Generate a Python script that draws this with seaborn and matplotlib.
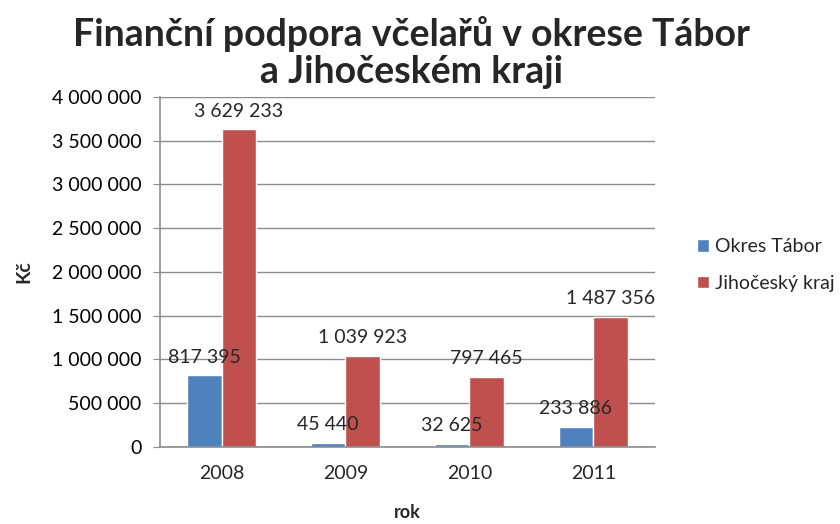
import numpy as np
import pandas as pd
import matplotlib.pyplot as plt
import matplotlib.ticker as mticker
import seaborn as sns

years = ['2008', '2009', '2010', '2011']
okres_tabor = [817395, 45440, 32625, 233886]
jihocesky_kraj = [3629233, 1039923, 797465, 1487356]
series_names = ['Okres Tábor', 'Jihočeský kraj']
colors = ['#4F81BD', '#C0504D']


def space_thousands(v):
    return f'{int(round(v)):,}'.replace(',', '\u00a0')


df = pd.DataFrame({
    'rok': years * 2,
    'value': okres_tabor + jihocesky_kraj,
    'series': [series_names[0]] * len(years) + [series_names[1]] * len(years),
})

sns.set_style('white')
plt.rcParams['font.family'] = ['Lato', 'DejaVu Sans']

fig = plt.figure(figsize=(8.4, 5.24), dpi=100)
ax = fig.add_axes([0.19, 0.147, 0.59, 0.668])

sns.barplot(data=df, x='rok', y='value', hue='series', palette=colors,
            width=0.56, saturation=1, ax=ax, legend=True)

ax.set_ylim(0, 4000000)
ax.yaxis.set_major_locator(mticker.MultipleLocator(500000))
ax.yaxis.set_major_formatter(mticker.FuncFormatter(lambda v, p: space_thousands(v)))
ax.grid(axis='y', color='#8c8c8c', linewidth=1)
ax.set_axisbelow(True)

for side in ['top', 'right']:
    ax.spines[side].set_visible(False)
for side in ['left', 'bottom']:
    ax.spines[side].set_color('#8c8c8c')
    ax.spines[side].set_linewidth(1.2)

ax.tick_params(axis='y', labelsize=14, length=5, color='#8c8c8c', left=True,
               labelcolor='#000000', pad=8)
ax.tick_params(axis='x', labelsize=14, length=0, pad=13)
ax.set_xlim(-0.5, 3.5)

for container in ax.containers:
    ax.bar_label(container, labels=[space_thousands(v) for v in container.datavalues],
                 padding=7, fontsize=14)

ax.set_xlabel('rok', fontsize=13, fontweight='bold', labelpad=16)
ax.set_ylabel('Kč', fontsize=14, fontweight='bold', labelpad=14)

ax.legend(loc='center left', bbox_to_anchor=(1.05, 0.52), frameon=False,
          fontsize=14, handlelength=0.6, handleheight=0.6, handletextpad=0.3,
          labelspacing=1.0, title=None)

fig.suptitle('Finanční podpora včelařů v okrese Tábor\na Jihočeském kraji',
             fontsize=27, fontweight='bold', x=0.49, y=0.97, linespacing=1.12)

fig.savefig('out.png', dpi=100)
plt.close(fig)
